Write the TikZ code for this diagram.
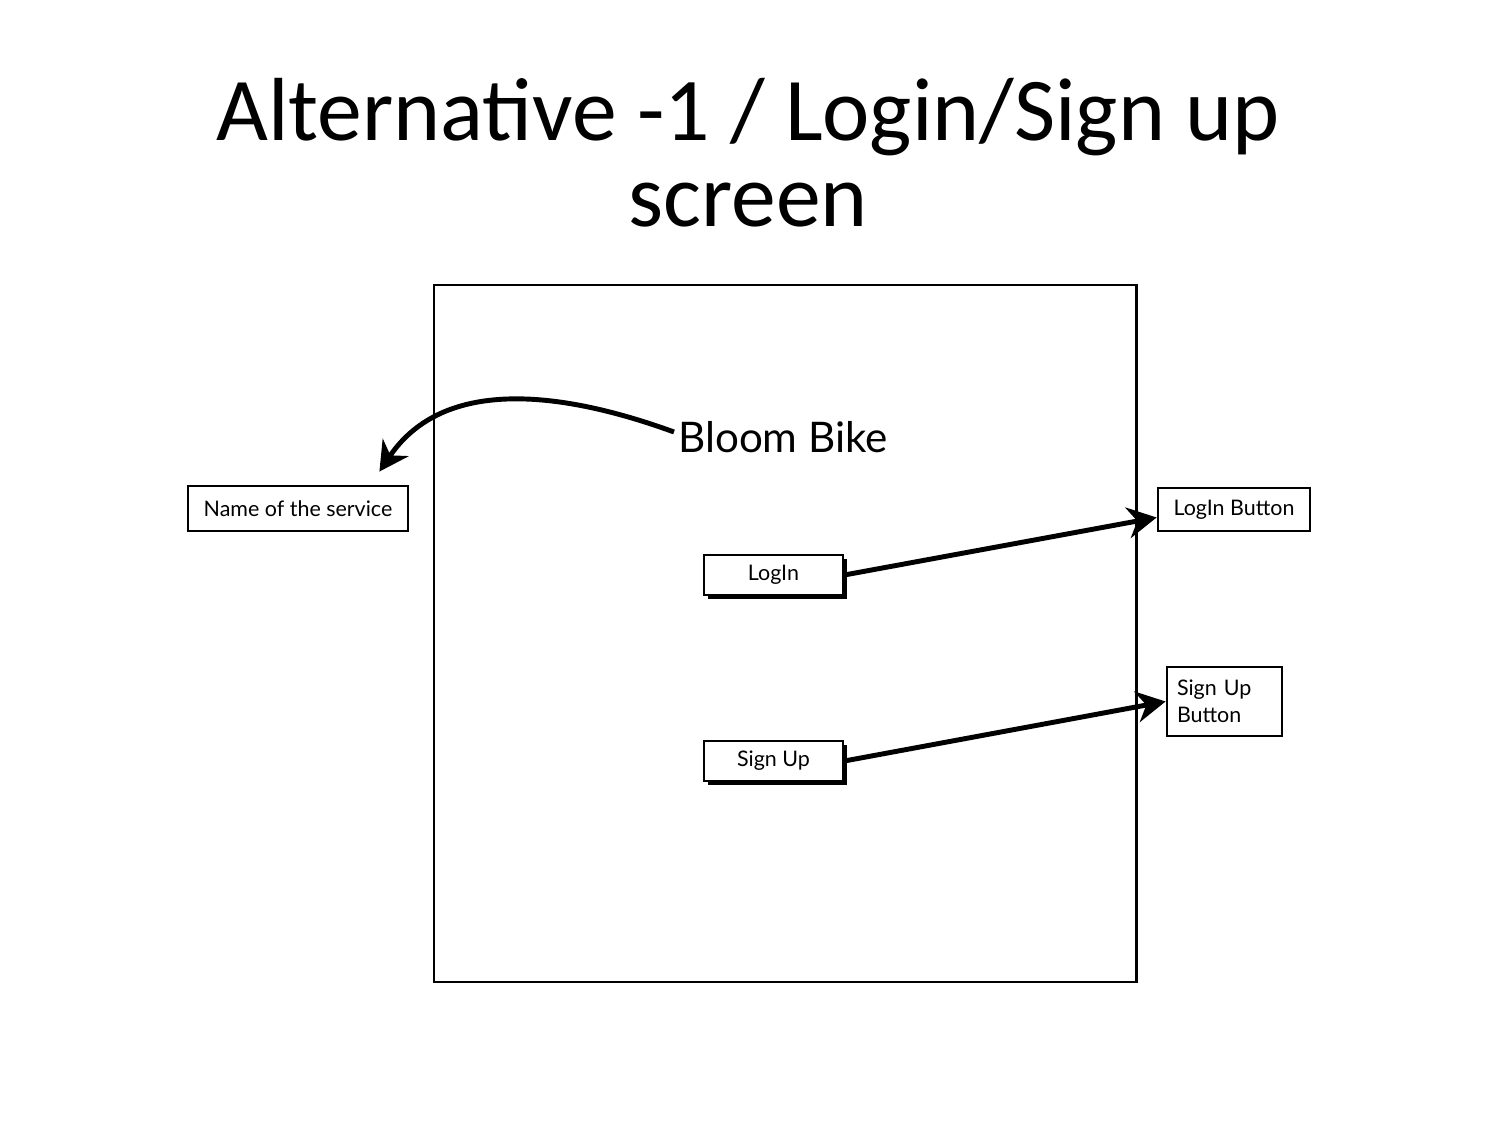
\documentclass[tikz,border=0pt]{standalone}
\usepackage{fontspec}
\setmainfont{Carlito}
\newfontfamily\sketchfont{Lato}
\usepackage{tikz}
\usepackage{xcolor}
\usetikzlibrary{shapes.geometric, arrows.meta, shadows}
\tikzstyle{widget} = [rectangle, draw=black, line width=0.8pt, fill=white, inner sep=0pt, font=\sketchfont\fontsize{6.1}{7.6}\selectfont]
\tikzstyle{button} = [widget, drop shadow={shadow xshift=1.1pt, shadow yshift=-1.1pt, opacity=1, fill=black}]
\tikzstyle{arrow} = [line width=1.4pt,->,>={Stealth[length=2.9mm, width=3.1mm]}]

\begin{document}
\begin{tikzpicture}
    \useasboundingbox (0,0) rectangle (15,11.25);
    \node (title) at (7.48,9.72) [align=center, font=\fontsize{25.5}{24.5}\selectfont]{Alternative -1 / Login/Sign up\\screen};
    \node (screen) at (7.85,4.915) [rectangle, draw=black, line width=0.85pt, minimum width=7.02cm, minimum height=6.97cm]{};
    \node (bloom) at (7.83,6.88) [inner sep=1pt, font=\sketchfont\fontsize{12}{14}\selectfont]{Bloom Bike};
    \node (name) at (2.98,6.165) [widget, minimum width=2.2cm, minimum height=0.45cm]{Name of the service};
    \node (login) at (7.735,5.50) [button, minimum width=1.39cm, minimum height=0.40cm]{LogIn};
    \node (signup) at (7.735,3.64) [button, minimum width=1.39cm, minimum height=0.40cm]{Sign Up};
    \node (loginbtn) at (12.34,6.155) [widget, minimum width=1.52cm, minimum height=0.43cm]{LogIn Button};
    \node (signupbtn) at (12.245,4.235) [widget, minimum width=1.15cm, minimum height=0.69cm, align=left, text width=0.95cm]{Sign Up\\Button};
    \draw[arrow] ([yshift=0.05cm]bloom.west) to[out=160, in=56] ([xshift=-0.3cm, yshift=0.13cm]name.north east);
    \draw[arrow] (login.east)--([yshift=-0.08cm]loginbtn.west);
    \draw[arrow] (signup.east)--(signupbtn.west);
\end{tikzpicture}
\end{document}
